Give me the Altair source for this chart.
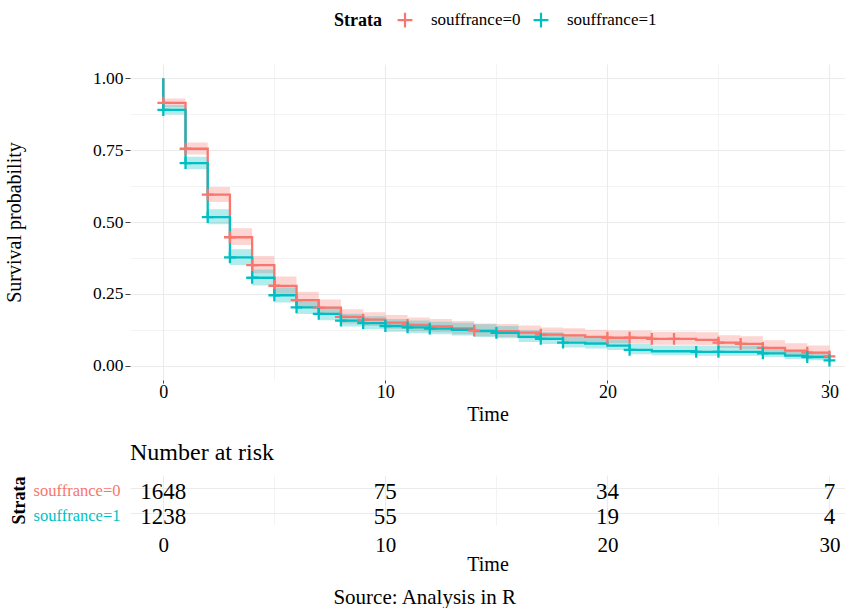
import altair as alt
import pandas as pd

FONT = "Liberation Serif"

groups = ["souffrance=0", "souffrance=1"]
colors = ["#F8766D", "#00BFC4"]

times = list(range(0, 31))

surv0 = [0.915, 0.755, 0.595, 0.447, 0.350, 0.278, 0.228, 0.202, 0.170, 0.160,
         0.150, 0.142, 0.137, 0.130, 0.122, 0.120, 0.115, 0.108, 0.105, 0.100,
         0.097, 0.097, 0.093, 0.093, 0.090, 0.080, 0.076, 0.062, 0.052, 0.045, 0.032]
lower0 = [0.900, 0.735, 0.570, 0.420, 0.322, 0.250, 0.202, 0.177, 0.147, 0.138,
          0.128, 0.120, 0.116, 0.109, 0.102, 0.100, 0.095, 0.089, 0.086, 0.081,
          0.078, 0.077, 0.073, 0.073, 0.070, 0.061, 0.057, 0.044, 0.035, 0.029, 0.018]
upper0 = [0.930, 0.777, 0.622, 0.478, 0.382, 0.310, 0.257, 0.230, 0.196, 0.186,
          0.176, 0.168, 0.162, 0.155, 0.147, 0.145, 0.140, 0.133, 0.130, 0.125,
          0.122, 0.122, 0.118, 0.118, 0.116, 0.106, 0.102, 0.088, 0.078, 0.070, 0.058]

surv1 = [0.890, 0.705, 0.517, 0.377, 0.306, 0.245, 0.203, 0.180, 0.157, 0.148,
         0.138, 0.133, 0.129, 0.125, 0.120, 0.114, 0.100, 0.093, 0.080, 0.077,
         0.070, 0.055, 0.050, 0.050, 0.048, 0.048, 0.048, 0.043, 0.035, 0.030, 0.018]
lower1 = [0.874, 0.684, 0.492, 0.350, 0.279, 0.220, 0.180, 0.158, 0.136, 0.127,
          0.118, 0.113, 0.109, 0.105, 0.100, 0.095, 0.082, 0.075, 0.063, 0.060,
          0.054, 0.040, 0.036, 0.036, 0.034, 0.034, 0.034, 0.030, 0.023, 0.019, 0.009]
upper1 = [0.906, 0.727, 0.544, 0.405, 0.335, 0.272, 0.229, 0.205, 0.181, 0.172,
          0.162, 0.157, 0.153, 0.149, 0.144, 0.138, 0.123, 0.116, 0.102, 0.099,
          0.092, 0.076, 0.070, 0.070, 0.068, 0.068, 0.068, 0.062, 0.053, 0.048, 0.036]

censor0 = [0, 1, 2, 3, 4, 5, 6, 7, 8, 9, 11, 14, 17, 20, 21, 22, 23, 25, 26, 27, 29, 30]
censor1 = [0, 1, 2, 3, 4, 5, 6, 7, 8, 9, 10, 11, 12, 15, 17, 18, 21, 24, 25, 27, 29, 30]

risk_times = [0, 10, 20, 30]
risk0 = [1648, 75, 34, 7]
risk1 = [1238, 55, 19, 4]

# ---------- build tables ----------
curve_rows, cens_rows, risk_rows = [], [], []
for g, S, lo, hi, cens, rk in [
    (groups[0], surv0, lower0, upper0, censor0, risk0),
    (groups[1], surv1, lower1, upper1, censor1, risk1),
]:
    curve_rows.append(dict(strata=g, time=0, surv=1.0, lower=1.0, upper=1.0, i=0))
    for k, t in enumerate(times):
        curve_rows.append(dict(strata=g, time=t, surv=S[k], lower=lo[k], upper=hi[k], i=k + 1))
    for t in cens:
        cens_rows.append(dict(strata=g, time=t, surv=S[times.index(t)]))
    for t, n in zip(risk_times, rk):
        risk_rows.append(dict(strata=g, time=t, n=n))

curves = pd.DataFrame(curve_rows)
cens_df = pd.DataFrame(cens_rows)
risk_df = pd.DataFrame(risk_rows)

color_scale = alt.Scale(domain=groups, range=colors)
xscale = alt.Scale(domain=[-1.5, 30.7], nice=False, zero=False)
W = 715

x_minor = "datum.value % 10 != 0"
y_minor = "abs(datum.value*4 - round(datum.value*4)) > 0.001"

x_axis_top = alt.Axis(
    values=[0, 5, 10, 15, 20, 25, 30],
    labelExpr="datum.value % 10 == 0 ? datum.label : ''",
    title="Time", titleFont=FONT, titleFontSize=20, titleFontWeight="normal",
    titleColor="black", titlePadding=3,
    labelFont=FONT, labelFontSize=18, labelColor="black", labelPadding=0,
    domain=False, grid=True, gridColor="#EBEBEB",
    gridWidth={"condition": {"test": x_minor, "value": 0.6}, "value": 1.1},
    tickColor="#444444", tickSize=3,
    tickOpacity={"condition": {"test": x_minor, "value": 0}, "value": 1},
)
y_axis_top = alt.Axis(
    values=[0, 0.125, 0.25, 0.375, 0.5, 0.625, 0.75, 0.875, 1.0],
    labelExpr="abs(datum.value*4 - round(datum.value*4)) < 0.001 ? format(datum.value, '.2f') : ''",
    title="Survival probability", titleFont=FONT, titleFontSize=20,
    titleFontWeight="normal", titleColor="black", titlePadding=68,
    labelFont=FONT, labelFontSize=17.5, labelColor="black", labelPadding=2,
    domain=False, grid=True, gridColor="#EBEBEB",
    gridWidth={"condition": {"test": y_minor, "value": 0.6}, "value": 1.1},
    tickColor="#444444", tickSize=5,
    tickOpacity={"condition": {"test": y_minor, "value": 0}, "value": 1},
)

X = alt.X("time:Q", scale=xscale, axis=x_axis_top)
Yscale = alt.Scale(domain=[-0.05, 1.05], nice=False, zero=False)

legend = alt.Legend(
    title="Strata", orient="none", direction="horizontal", titleOrient="left",
    legendX=204, legendY=-53, titlePadding=14,
    titleFont=FONT, titleFontSize=18, titleFontWeight="bold", titleColor="black",
    labelFont=FONT, labelFontSize=17, labelColor="black",
    symbolType="M-1,0H1M0,-1V1", symbolStrokeWidth=2.2, symbolSize=220,
    symbolOpacity=1, symbolFillColor="transparent", columnPadding=8, labelOffset=17,
)

band = alt.Chart(curves).mark_area(interpolate="step-after", opacity=0.3).encode(
    x=X,
    y=alt.Y("lower:Q", scale=Yscale, axis=y_axis_top),
    y2="upper:Q",
    color=alt.Color("strata:N", scale=color_scale, legend=legend),
    detail="strata:N",
)
line = alt.Chart(curves).mark_line(interpolate="step-after", strokeWidth=2.3).encode(
    x=X,
    y=alt.Y("surv:Q", scale=Yscale, axis=y_axis_top),
    color=alt.Color("strata:N", scale=color_scale, legend=legend),
    order="i:Q",
)
marks = alt.Chart(cens_df).mark_point(
    shape="M-1,0H1M0,-1V1", filled=False, strokeWidth=2.3, size=140, opacity=1
).encode(
    x=X,
    y=alt.Y("surv:Q", scale=Yscale, axis=y_axis_top),
    color=alt.Color("strata:N", scale=color_scale, legend=legend),
)

top = alt.layer(band, line, marks).properties(width=W, height=316)

# ---------- risk table ----------
x_axis_bot = alt.Axis(
    values=[0, 5, 10, 15, 20, 25, 30],
    labelExpr="datum.value % 10 == 0 ? datum.label : ''",
    title="Time", titleFont=FONT, titleFontSize=20, titleFontWeight="normal",
    titleColor="black", titlePadding=-1,
    labelFont=FONT, labelFontSize=21, labelColor="black", labelPadding=9,
    domain=False, ticks=False, grid=True, gridColor="#EBEBEB",
    gridWidth={"condition": {"test": x_minor, "value": 0.6}, "value": 1.1},
)
y_axis_bot = alt.Axis(
    title="Strata", titleFont=FONT, titleFontSize=18, titleFontWeight="bold",
    titleColor="black", titlePadding=5,
    labelFont=FONT, labelFontSize=16.5, labelPadding=10, labelOffset=3,
    labelColor={"condition": {"test": "datum.value == 'souffrance=0'", "value": colors[0]},
                "value": colors[1]},
    domain=False, ticks=False, grid=True, gridColor="#EBEBEB", gridWidth=1.1,
)

table = alt.Chart(risk_df).mark_text(font=FONT, fontSize=23, color="black", baseline="middle", dy=4).encode(
    x=alt.X("time:Q", scale=xscale, axis=x_axis_bot),
    y=alt.Y("strata:N", scale=alt.Scale(type="point", domain=groups, padding=0.5), axis=y_axis_bot),
    text="n:Q",
).properties(
    width=W, height=50,
    title=alt.TitleParams("Number at risk", anchor="start", frame="group", font=FONT,
                          fontSize=24, fontWeight="normal", color="black", offset=10),
)

chart = alt.vconcat(top, table, spacing=17).properties(
    title=alt.TitleParams("Source: Analysis in R", orient="bottom", anchor="middle",
                          font=FONT, fontSize=21, fontWeight="normal", color="black", offset=13),
    padding={"left": 4, "top": 11, "right": 0, "bottom": 0},
    background="white",
).configure_view(strokeWidth=0)

chart.save("out.html", embed_options={"renderer": "svg", "actions": False})
